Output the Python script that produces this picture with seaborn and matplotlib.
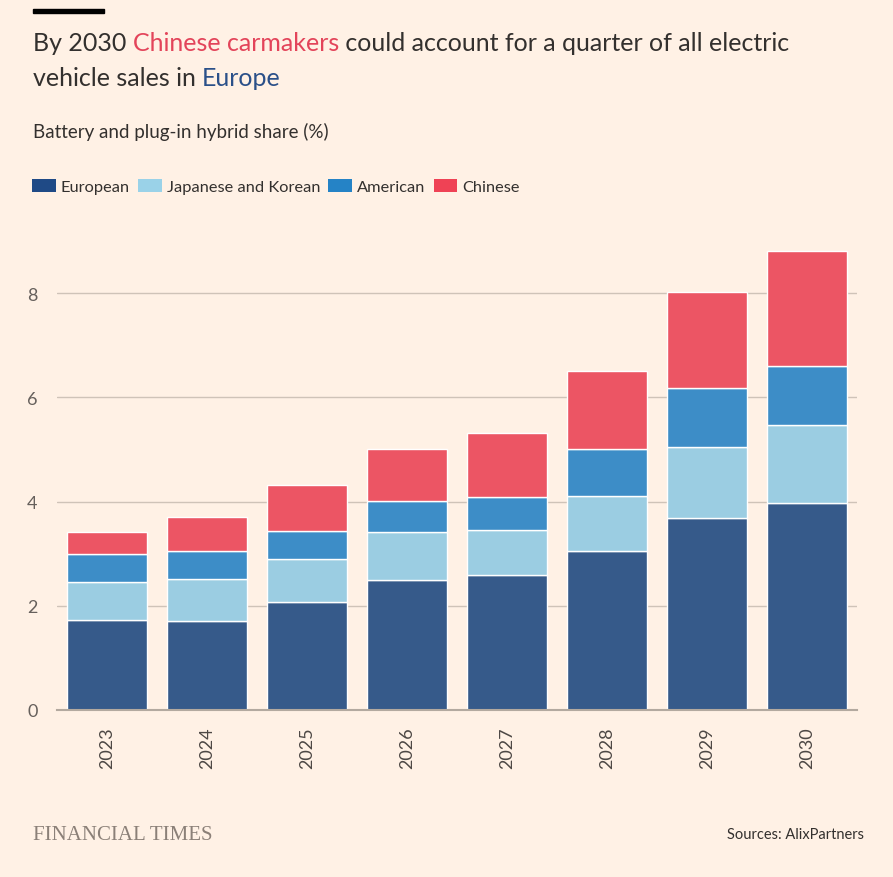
import numpy as np
import pandas as pd
import matplotlib.pyplot as plt
import seaborn as sns
from matplotlib.patches import Patch, Rectangle

# ------------------------------
# DATA (battery + plug-in hybrid share, %)
# ------------------------------
years = ["2023", "2024", "2025", "2026", "2027", "2028", "2029", "2030"]
european = [1.73, 1.70, 2.07, 2.50, 2.59, 3.05, 3.68, 3.97]
japanese_korean = [0.73, 0.82, 0.82, 0.91, 0.87, 1.06, 1.37, 1.50]
american = [0.54, 0.53, 0.55, 0.60, 0.63, 0.90, 1.12, 1.13]
chinese = [0.41, 0.66, 0.87, 1.00, 1.22, 1.50, 1.85, 2.21]

groups = ["European", "Japanese and Korean", "American", "Chinese"]
bar_colors = ["#365a8a", "#9bcde2", "#3d8dc7", "#ec5564"]
legend_colors = ["#1f4a86", "#9ad2e8", "#2583c6", "#ef4255"]

df = pd.DataFrame({
    "Year": years,
    "European": european,
    "Japanese and Korean": japanese_korean,
    "American": american,
    "Chinese": chinese,
})

BG = "#fff1e5"
TEXT = "#33302e"
GREY = "#66605c"

sns.set_style("white")
plt.rcParams["font.family"] = ["Lato", "DejaVu Sans"]

fig = plt.figure(figsize=(8.93, 8.78), dpi=100)
fig.patch.set_facecolor(BG)
ax = fig.add_axes([57 / 893, 1 - 711 / 878, 800 / 893, (711 - 242) / 878])
ax.set_facecolor(BG)

# ------------------------------
# STACKED BARS
# ------------------------------
bottom = np.zeros(len(df))
for g, c in zip(groups, bar_colors):
    sns.barplot(data=df, x="Year", y=g, color=c, saturation=1, bottom=bottom,
                width=0.8, edgecolor="white", linewidth=1.0, ax=ax, zorder=3)
    bottom = bottom + df[g].values

ax.set_xlim(-0.5, len(years) - 0.5)
ax.set_ylim(0, 9.0)
ax.set_yticks([0, 2, 4, 6, 8])
ax.yaxis.grid(True, color="#cfc3b8", linewidth=1, zorder=0)
ax.set_axisbelow(True)
ax.set_xlabel("")
ax.set_ylabel("")
for s in ["top", "right", "left"]:
    ax.spines[s].set_visible(False)
ax.spines["bottom"].set_color("#b3a99f")
ax.spines["bottom"].set_linewidth(1.5)
ax.spines["bottom"].set_zorder(4)

ax.tick_params(axis="y", length=0, pad=14, labelsize=13, labelcolor=GREY)
ax.tick_params(axis="x", length=8, width=1, color="#b3a99f", pad=4,
               labelsize=13, labelcolor="#4d4845", labelrotation=90)

# ------------------------------
# TITLE (multi-coloured), SUBTITLE, LEGEND
# ------------------------------
fig.add_artist(Rectangle((33 / 893, 1 - 14 / 878), 71 / 893, 4 / 878,
                         transform=fig.transFigure, color="#000000"))

pieces1 = [("By 2030 ", TEXT), ("Chinese carmakers", "#e3445a"),
           (" could account for a quarter of all electric", TEXT)]
pieces2 = [("vehicle sales in ", TEXT), ("Europe", "#2b5089")]


def colored_line(pieces, x, y, size=18):
    prev = None
    for txt, col in pieces:
        if prev is None:
            prev = fig.text(x, y, txt, color=col, fontsize=size,
                            va="baseline", ha="left")
        else:
            prev = ax.annotate(txt, xy=(1, 0), xycoords=prev,
                               xytext=(0, 0), textcoords="offset points",
                               va="bottom", ha="left", color=col,
                               fontsize=size, annotation_clip=False)
    return prev


colored_line(pieces1, 33 / 893, 1 - 51 / 878)
colored_line(pieces2, 33 / 893, 1 - 86 / 878)

fig.text(33 / 893, 1 - 138 / 878, "Battery and plug-in hybrid share (%)",
         fontsize=13.5, color=TEXT, va="baseline")

handles = [Patch(facecolor=c, edgecolor="none") for c in legend_colors]
fig.legend(handles, groups, loc="upper left",
           bbox_to_anchor=(32 / 893, 1 - 180 / 878), ncol=4, frameon=False,
           handlelength=1.45, handleheight=0.8, handletextpad=0.3,
           columnspacing=0.5, fontsize=11.8, labelcolor=TEXT,
           borderpad=0, borderaxespad=0)

# ------------------------------
# FOOTER
# ------------------------------
fig.text(33 / 893, 1 - 840 / 878, "FINANCIAL TIMES", family="Liberation Serif",
         fontsize=15, color="#8b8078", va="baseline")
fig.text(864 / 893, 1 - 839 / 878, "Sources: AlixPartners", fontsize=10.5,
         color=TEXT, va="baseline", ha="right")

fig.savefig("out.png", dpi=100, facecolor=BG)
